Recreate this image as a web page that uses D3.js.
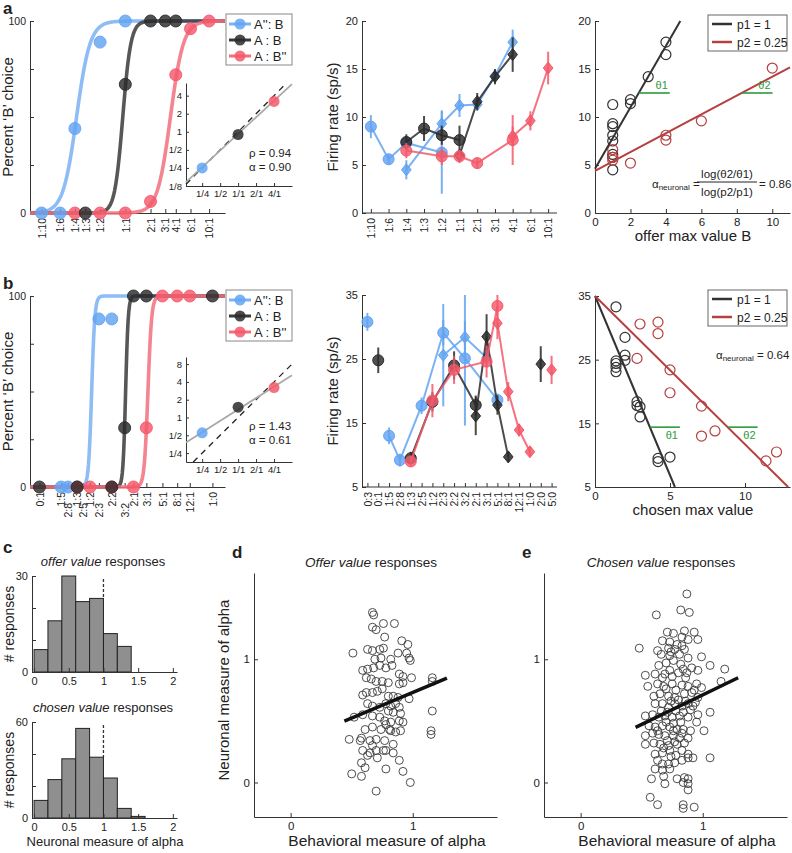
<!DOCTYPE html>
<html>
<head>
<meta charset="utf-8">
<script src="https://cdn.jsdelivr.net/npm/d3@7"></script>
<style>
body { margin: 0; background: #fff; }
.ax path, .ax line { stroke: #333; }
.ax text { fill: #222; }
</style>
</head>
<body>
<script>
// ---- data ----
// behaviour, panel a (x position = log of the offer ratio)
var aChoiceCats  = ['1:10','1:6','1:4','1:3','1:2','1:1','2:1','3:1','4:1','6:1','10:1'];
var aChoiceBlue  = [0, 0, 44, null, 89, 100, null, null, null, null, null];
var aChoiceBlack = [null, null, null, 0, null, 67, 100, 100, 100, null, null];
var aChoiceRed   = [null, null, 0, null, 0, 0, 6, null, 72, 96, 100];
var aFitMid   = [-1.34, -0.07, 1.24];
var aFitSlope = [5.4, 9, 5.6];

// behaviour, panel b
var bChoiceCats  = ['0:1','1:5','2:8','1:3','2:5','1:2','2:3','2:2','3:2','2:1','3:1','5:1','8:1','12:1','1:0'];
var bChoiceLn    = [-2.3, -1.61, -1.39, -1.10, -0.92, -0.69, -0.41, 0, 0.41, 0.69, 1.10, 1.61, 2.08, 2.48, 3.2];
var bChoiceLower = ['2:8','2:5','2:3','3:2'];
var bChoiceBlue  = [null, 0, 0, null, null, null, 88, 88, null, null, null, null, null, null, null];
var bChoiceBlack = [0, null, null, 0, null, null, null, 0, 31, 100, 100, null, null, null, 100];
var bChoiceRed   = [null, null, null, 0, null, 0, null, 0, null, 0, 31, 100, 100, 100, null];
var bFitMid   = [-0.64, 0.44, 1.15];
var bFitSlope = [20, 24, 17];

var seriesNames = ["A'': B", 'A : B', "A : B''"];

// insets (log2 relative value)
var insetXTicks = ['1/4','1/2','1/1','2/1','4/1'];
var insetX = [-2, 0, 2];
var aInsetYTicks = ['1/8','1/4','1/2','1','2','4'];
var aInsetY = [-2, -0.15, 1.68];
var aInsetFit = [-0.12, 0.92];
var aInsetText = ['\u03c1 = 0.94', '\u03b1 = 0.90'];
var bInsetYTicks = ['1/4','1/2','1','2','4','8'];
var bInsetY = [-0.86, 0.58, 1.68];
var bInsetFit = [0.45, 0.64];
var bInsetText = ['\u03c1 = 1.43', '\u03b1 = 0.61'];

// firing rates, panel a: [offer type, sp/s, sem]
var aRateCats = ['1:10','1:6','1:4','1:3','1:2','1:1','2:1','3:1','4:1','6:1','10:1'];
var aBlueCirc  = [['1:10',9.0,1.2],['1:6',5.6,0.5],['1:4',7.3,0.5],['1:2',6.3,4.3]];
var aBlueDiam  = [['1:4',4.5,1.0],['1:2',9.3,1.4],['1:1',11.2,1.2],['2:1',11.3,0.6],['3:1',14.3,0.5],['4:1',17.8,1.3]];
var aBlackCirc = [['1:4',7.4,0.8],['1:3',8.8,1.3],['1:2',8.1,1.0],['1:1',7.6,1.5]];
var aBlackDiam = [['1:1',6.0,0.6],['2:1',11.6,0.9],['3:1',14.2,0.8],['4:1',16.5,1.8]];
var aRedCirc   = [['1:4',6.5,0.8],['1:2',5.9,0.9],['1:1',5.9,0.7],['2:1',5.2,0.5],['4:1',7.6,2.6]];
var aRedDiam   = [['4:1',8.0,1.0],['6:1',9.6,1.0],['10:1',15.1,1.7]];

// firing rates, panel b
var bRateCats = ['0:3','0:1','1:5','2:8','1:3','2:5','1:2','2:3','2:2','3:2','2:1','3:1','5:1','8:1','12:1','1:0','2:0','5:0'];
var bBlueAlone  = [['0:3',30.8,1.4]];
var bBlueCirc   = [['1:5',13.0,1.3],['2:8',9.2,1.0],['2:5',17.7,1.3],['2:3',29.1,2.0],['3:2',25.1,10.5],['5:1',18.6,1.0]];
var bBlueDiam   = [['2:3',25.6,8.0],['3:2',28.4,2.5],['3:1',25.2,1.5]];
var bBlackAlone = [['0:1',24.8,2.0]];
var bBlackCirc  = [['1:3',9.5,1.0],['1:2',18.3,1.5],['2:2',24.0,2.2],['2:1',17.8,1.5]];
var bBlackDiam  = [['2:1',16.1,3.0],['3:1',28.5,3.5],['5:1',17.8,1.5],['8:1',9.7,0.8]];
var bBlackDAlone = [['2:0',24.2,2.8]];
var bRedCirc    = [['1:3',9.0,0.8],['1:2',18.5,2.6],['2:2',23.3,2.2],['3:1',24.6,2.5],['5:1',33.3,1.8]];
var bRedDiam    = [['5:1',30.6,2.5],['8:1',19.9,1.5],['12:1',13.9,1.0],['1:0',10.5,0.7]];
var bRedDAlone  = [['5:0',23.3,2.2]];

// single neuron examples: [max value, sp/s]
var aOfferP1 = [[1,11.3],[1,9.3],[1,9.0],[1,8.1],[1,7.5],[1,6.1],[1,5.8],[1,4.5],[2,11.8],[2,11.4],[3,14.2],[4,17.8],[4,16.5]];
var aOfferP2 = [[1,6.6],[1,5.8],[1,5.5],[2,5.2],[4,8.1],[4,7.6],[6,9.6],[10,15.1]];
var aLineIcpt = [4.6, 4.4], aLineSlope = [3.2, 0.98];
var aTheta = 12.5;
var bChosenP1 = [[1.4,33.3],[1.4,24.8],[1.4,24.4],[1.4,23.8],[1.4,23.1],[2,28.5],[2,25.7],[2,24.9],[2.8,18.4],[2.8,17.8],[3,17.6],[3,16.0],[4.2,9.5],[4.2,9.0],[5,9.7]];
var bChosenP2 = [[3,30.6],[4.2,30.9],[4.2,29.1],[2.8,25.2],[5,23.4],[5,19.8],[7.1,17.7],[7.1,13.0],[8,13.8],[11.4,9.1],[12.1,10.5]];
var bLineIcpt = [35, 35], bLineSlope = [-5.63, -2.33];
var bTheta = 14.4;

// histograms, bins of 0.2 starting at 0
var histBins = [0, 0.2, 0.4, 0.6, 0.8, 1.0, 1.2, 1.4, 1.6, 1.8];
var offerCounts  = [7, 16, 30, 22, 23, 12, 8, 0, 0, 0];
var chosenCounts = [11, 24, 37, 56, 38, 25, 6, 1, 0, 0];

// behavioural vs neuronal alpha
var dPts = [[0.67,1.38],[0.68,1.36],[0.76,1.29],[0.85,1.29],[0.67,1.26],[0.70,1.24],[0.77,1.18],[0.91,1.15],[0.96,1.12],
  [0.51,1.05],[0.63,1.08],[0.67,1.07],[0.73,1.08],[0.76,1.09],[0.69,1.00],[0.74,1.01],[0.82,1.00],[0.88,1.05],[0.95,1.05],
  [0.97,1.01],[0.98,0.99],[0.59,0.91],[0.63,0.92],[0.68,0.93],[0.73,0.95],[0.78,0.93],[0.83,0.95],[0.89,0.88],[0.92,0.86],
  [0.99,0.85],[1.16,0.85],[1.16,0.82],[0.62,0.85],[0.66,0.84],[0.70,0.82],[0.75,0.82],[0.80,0.81],[0.59,0.71],[0.62,0.73],
  [0.67,0.73],[0.71,0.74],[0.75,0.76],[0.80,0.70],[0.84,0.70],[0.88,0.69],[0.92,0.81],[0.97,0.68],[0.63,0.64],[0.67,0.62],
  [0.73,0.61],[0.78,0.64],[0.82,0.62],[0.86,0.64],[0.89,0.61],[0.80,0.58],[0.84,0.57],[0.90,0.56],[0.52,0.53],[0.59,0.55],
  [0.67,0.54],[0.73,0.53],[0.77,0.50],[0.78,0.47],[0.82,0.49],[0.89,0.50],[0.92,0.49],[1.16,0.58],[0.61,0.43],[0.67,0.45],
  [0.74,0.43],[0.81,0.43],[0.82,0.42],[0.86,0.41],[0.90,0.42],[1.15,0.42],[1.15,0.39],[0.48,0.35],[0.57,0.34],[0.58,0.36],
  [0.65,0.34],[0.70,0.35],[0.77,0.34],[0.84,0.31],[0.67,0.30],[0.70,0.26],[0.76,0.26],[0.59,0.26],[0.65,0.24],[0.63,0.22],
  [0.71,0.20],[0.78,0.26],[0.84,0.24],[0.89,0.18],[0.58,0.16],[0.61,0.12],[0.50,0.07],[0.78,0.11],[0.92,0.09],[0.98,0.00],
  [0.70,-0.07],[0.58,0.05],[0.89,0.80]];
var dFit = [0.314, 0.417], dFitRange = [0.44, 1.28];

var ePts = [[0.87,1.53],[0.82,1.40],[0.89,1.38],[0.62,1.36],[0.71,1.22],[0.76,1.21],[0.85,1.23],[0.93,1.22],[0.83,1.18],
  [0.88,1.16],[0.96,1.16],[0.67,1.15],[0.73,1.14],[0.48,1.09],[0.63,1.07],[0.72,1.09],[0.77,1.08],[0.85,1.08],[0.66,1.04],
  [0.73,1.03],[0.81,1.04],[0.88,1.01],[0.99,1.02],[0.53,0.87],[0.61,0.88],[0.67,0.85],[0.73,0.91],[0.80,0.89],[0.84,0.92],
  [0.91,0.93],[0.96,0.91],[1.06,0.95],[1.18,0.92],[0.55,0.78],[0.63,0.80],[0.68,0.78],[0.75,0.80],[0.83,0.79],[0.88,0.78],
  [0.95,0.80],[0.99,0.77],[1.15,0.82],[0.60,0.70],[0.65,0.72],[0.72,0.70],[0.77,0.69],[0.85,0.72],[0.91,0.73],[0.96,0.69],
  [0.61,0.64],[0.67,0.64],[0.72,0.61],[0.77,0.64],[0.83,0.62],[0.88,0.64],[0.94,0.65],[0.96,0.55],[1.06,0.57],[0.53,0.54],
  [0.59,0.55],[0.64,0.53],[0.69,0.54],[0.75,0.53],[0.81,0.54],[0.88,0.53],[0.95,0.49],[1.01,0.42],[0.56,0.46],[0.61,0.45],
  [0.67,0.46],[0.73,0.45],[0.79,0.43],[0.84,0.43],[0.90,0.42],[0.53,0.38],[0.59,0.40],[0.64,0.39],[0.69,0.38],[0.76,0.38],
  [0.83,0.40],[0.88,0.36],[0.53,0.31],[0.60,0.32],[0.65,0.31],[0.72,0.30],[0.79,0.31],[0.85,0.32],[0.61,0.23],[0.67,0.24],
  [0.73,0.26],[0.83,0.26],[0.88,0.23],[0.92,0.20],[1.06,0.20],[0.63,0.18],[0.67,0.15],[0.72,0.15],[0.77,0.16],[0.83,0.18],
  [0.88,0.20],[0.61,0.11],[0.67,0.10],[0.73,0.11],[0.58,0.03],[0.68,0.05],[0.69,-0.01],[0.79,0.03],[0.88,0.03],[0.88,-0.01],
  [0.88,-0.06],[0.84,0.00],[0.85,0.04],[0.57,-0.12],[0.63,-0.18],[0.84,-0.18],[0.84,-0.21],[0.93,-0.20],
  [0.64,0.95],[0.70,0.97],[0.76,0.99],[0.82,0.96],[0.69,0.88],[0.75,0.86],[0.86,0.85],[0.78,0.75],[0.70,0.76],[0.74,0.66],
  [0.80,0.67],[0.86,0.66],[0.66,0.58],[0.71,0.57],[0.78,0.58],[0.84,0.57],[0.90,0.59],[0.70,0.49],[0.76,0.48],[0.82,0.49],
  [0.63,0.42],[0.76,0.42],[0.71,0.34],[0.77,0.33],[0.68,0.28],[0.81,0.36],[0.74,0.21],[0.78,0.22],[0.92,0.62],[0.93,0.75],
  [0.87,0.89],[0.79,1.12],[0.74,1.06],[0.83,1.11]];
var eFit = [0.232, 0.479], eFitRange = [0.45, 1.29];

// ---- drawing ----
var colors = ['#63a4f2', '#2b2b2b', '#f4596a'];
var curveColors = ['#7ab2f4', '#3a3a3a', '#f26e7b'];
var green = '#2c9a3c', darkRed = '#b5403f';

var svg = d3.select('body').append('svg').attr('width', 792).attr('height', 853)
  .style('font-family', '"Liberation Sans", Arial, Helvetica, sans-serif');

function txt(x, y, s, fs, opt) {
  opt = opt || {};
  var t = svg.append('text').attr('x', x).attr('y', y).text(s)
    .style('font-size', fs + 'px').attr('fill', opt.fill || '#222');
  if (opt.anchor) t.attr('text-anchor', opt.anchor);
  if (opt.bold) t.style('font-weight', 'bold');
  if (opt.rot) t.attr('transform', 'rotate(-90,' + x + ',' + y + ')');
  return t;
}

function leftAxis(x, scale, vals, fmt, fs) {
  var g = svg.append('g').attr('class', 'ax').attr('transform', 'translate(' + x + ',0)')
    .call(d3.axisLeft(scale).tickValues(vals).tickFormat(fmt).tickSizeInner(-4).tickSizeOuter(0).tickPadding(4));
  g.selectAll('text').style('font-size', fs + 'px');
  return g;
}
function bottomAxis(y, scale, vals, fmt, fs) {
  var g = svg.append('g').attr('class', 'ax').attr('transform', 'translate(0,' + y + ')')
    .call(d3.axisBottom(scale).tickValues(vals).tickFormat(fmt).tickSizeInner(-4).tickSizeOuter(0).tickPadding(5));
  g.selectAll('text').style('font-size', fs + 'px');
  return g;
}
function rotateLabels(g, off) {
  g.selectAll('text').attr('transform', 'rotate(-90)').attr('text-anchor', 'end')
    .attr('y', 0).attr('dy', '0.35em').attr('x', function(d, i) { return off ? -off(d, i) : -5; });
}
function diamond() { return 'M0,-6L4.8,0L0,6L-4.8,0Z'; }

// ----- behaviour panels (a and b, left) -----
function choicePanel(o) {
  var x = d3.scaleLinear().domain(o.xDom).range([30, 225]);
  var y = d3.scaleLinear().domain([0, 100]).range([o.y0, o.y1]);
  leftAxis(30, y, [0, 25, 50, 75, 100], function(d) { return d === 0 || d === 100 ? d : ''; }, 10.5);
  var gx = bottomAxis(o.y0, x, o.pos, function(d, i) { return o.cats[i]; }, 10.5);
  rotateLabels(gx, function(d, i) { return o.lower && o.lower.indexOf(o.cats[i]) >= 0 ? 16 : 5; });

  var xs = d3.range(0, 301).map(function(i) { return o.xDom[0] + (o.xDom[1] - o.xDom[0]) * i / 300; });
  o.mid.forEach(function(m, s) {
    var line = d3.line().x(function(d) { return x(d); })
      .y(function(d) { return y(100 / (1 + Math.exp(-o.slope[s] * (d - m)))); });
    svg.append('path').datum(xs).attr('d', line).attr('fill', 'none')
      .attr('stroke', curveColors[s]).attr('stroke-width', 3.6).attr('opacity', 0.85);
  });
  [0, 2, 1].forEach(function(s) {
    var pts = o.vals[s].map(function(v, i) { return [o.pos[i], v]; }).filter(function(d) { return d[1] !== null; });
    svg.append('g').selectAll('circle').data(pts).join('circle')
      .attr('cx', function(d) { return x(d[0]); }).attr('cy', function(d) { return y(d[1]); }).attr('r', 6)
      .attr('fill', colors[s]).attr('fill-opacity', 0.82).attr('stroke', colors[s]).attr('stroke-opacity', 0.9);
  });

  // legend
  var lg = svg.append('g').attr('transform', 'translate(226,' + o.legY + ')');
  lg.append('rect').attr('width', 66).attr('height', 51).attr('fill', '#fff').attr('stroke', '#888');
  seriesNames.forEach(function(n, s) {
    var yy = 10 + s * 16;
    lg.append('line').attr('x1', 3).attr('x2', 25).attr('y1', yy).attr('y2', yy)
      .attr('stroke', curveColors[s]).attr('stroke-width', 3);
    lg.append('circle').attr('cx', 14).attr('cy', yy).attr('r', 5.5).attr('fill', colors[s]).attr('fill-opacity', 0.85);
    lg.append('text').attr('x', 28).attr('y', yy + 4.5).text(n).style('font-size', '13px').attr('fill', '#222');
  });

  // inset
  var ix = d3.scaleLinear().domain([-2.9, 3.0]).range([186, 292]);
  var iy = d3.scaleLinear().domain(o.iyDom).range([o.iy0, o.iy1]);
  var gi = leftAxis(186, iy, d3.range(o.iyTickStart, o.iyTickStart + o.iyTicks.length),
    function(d, i) { return o.iyTicks[i]; }, 9.5);
  gi.selectAll('.tick line').attr('x2', 3);
  var gix = bottomAxis(o.iy0, ix, [-2, -1, 0, 1, 2], function(d, i) { return insetXTicks[i]; }, 9.5);
  gix.selectAll('.tick line').attr('y2', -3);
  gix.selectAll('text').attr('y', 4);
  var lo = Math.max(ix.domain()[0], iy.domain()[0]), hi = Math.min(ix.domain()[1], iy.domain()[1]);
  svg.append('line').attr('x1', ix(lo)).attr('y1', iy(lo)).attr('x2', ix(hi)).attr('y2', iy(hi))
    .attr('stroke', '#222').attr('stroke-width', 1.3).attr('stroke-dasharray', '6,5');
  var fx0 = Math.max(ix.domain()[0], (iy.domain()[0] - o.fit[0]) / o.fit[1]);
  var fx1 = Math.min(3.0, (iy.domain()[1] - o.fit[0]) / o.fit[1]);
  svg.append('line').attr('x1', ix(fx0)).attr('y1', iy(o.fit[0] + o.fit[1] * fx0))
    .attr('x2', ix(fx1)).attr('y2', iy(o.fit[0] + o.fit[1] * fx1))
    .attr('stroke', '#aaa').attr('stroke-width', 1.8);
  svg.append('g').selectAll('circle').data(insetX).join('circle')
    .attr('cx', function(d) { return ix(d); }).attr('cy', function(d, i) { return iy(o.iVals[i]); }).attr('r', 5.5)
    .attr('fill', function(d, i) { return colors[i]; }).attr('fill-opacity', 0.85);
  txt(249, o.textY, o.text[0], 11.5);
  txt(249, o.textY + 14, o.text[1], 11.5);
  txt(13, (o.y0 + o.y1) / 2, "Percent \u2018B\u2019 choice", 15, { anchor: 'middle', rot: true });
}

choicePanel({
  cats: aChoiceCats,
  pos: aChoiceCats.map(function(c) { var p = c.split(':'); return Math.log(+p[0] / +p[1]); }),
  xDom: [-2.62, 2.74], y0: 213, y1: 21,
  vals: [aChoiceBlue, aChoiceBlack, aChoiceRed], mid: aFitMid, slope: aFitSlope, legY: 14,
  iyDom: [-3, 2.7], iy0: 186, iy1: 83, iyTicks: aInsetYTicks, iyTickStart: -3,
  iVals: aInsetY, fit: aInsetFit, text: aInsetText, textY: 157
});
choicePanel({
  cats: bChoiceCats, pos: bChoiceLn, lower: bChoiceLower,
  xDom: [-2.6, 3.6], y0: 487, y1: 296,
  vals: [bChoiceBlue, bChoiceBlack, bChoiceRed], mid: bFitMid, slope: bFitSlope, legY: 290,
  iyDom: [-2.5, 3.4], iy0: 462, iy1: 357, iyTicks: bInsetYTicks, iyTickStart: -2,
  iVals: bInsetY, fit: bInsetFit, text: bInsetText, textY: 430
});

// ----- firing rate panels (middle) -----
function ratePanel(o) {
  var x = d3.scalePoint().domain(o.cats).range([362, 557]).padding(0.5);
  var y = d3.scaleLinear().domain(o.yDom).range([o.y0, o.y1]).clamp(true);
  leftAxis(362, y, o.yTicks, d3.format('d'), 11);
  var gx = bottomAxis(o.y0, x, o.cats, function(d) { return d; }, 10.5);
  rotateLabels(gx);
  gx.select('.domain').attr('d', 'M362,0H557');
  o.series.forEach(function(s) {
    var g = svg.append('g');
    var col = colors[s.c];
    if (s.line && s.pts.length > 1) {
      g.append('path').datum(s.pts).attr('fill', 'none').attr('stroke', col).attr('stroke-width', 2).attr('opacity', 0.85)
        .attr('d', d3.line().x(function(d) { return x(d[0]); }).y(function(d) { return y(d[1]); }));
    }
    g.selectAll('line').data(s.pts).join('line')
      .attr('x1', function(d) { return x(d[0]); }).attr('x2', function(d) { return x(d[0]); })
      .attr('y1', function(d) { return y(d[1] - d[2]); }).attr('y2', function(d) { return y(d[1] + d[2]); })
      .attr('stroke', col).attr('stroke-width', 2).attr('opacity', 0.85);
    if (s.shape === 'd') {
      g.selectAll('path.m').data(s.pts).join('path').attr('class', 'm').attr('d', diamond)
        .attr('transform', function(d) { return 'translate(' + x(d[0]) + ',' + y(d[1]) + ')'; })
        .attr('fill', col).attr('fill-opacity', 0.85).attr('stroke', col);
    } else {
      g.selectAll('circle').data(s.pts).join('circle').attr('r', 5.5)
        .attr('cx', function(d) { return x(d[0]); }).attr('cy', function(d) { return y(d[1]); })
        .attr('fill', col).attr('fill-opacity', 0.82).attr('stroke', col);
    }
  });
  txt(338, (o.y0 + o.y1) / 2, 'Firing rate (sp/s)', 15, { anchor: 'middle', rot: true });
}

ratePanel({
  cats: aRateCats, yDom: [0, 20], y0: 213, y1: 21, yTicks: [0, 5, 10, 15, 20],
  series: [
    { pts: aBlueCirc, c: 0, shape: 'c', line: true }, { pts: aBlueDiam, c: 0, shape: 'd', line: true },
    { pts: aBlackCirc, c: 1, shape: 'c', line: true }, { pts: aBlackDiam, c: 1, shape: 'd', line: true },
    { pts: aRedCirc, c: 2, shape: 'c', line: true }, { pts: aRedDiam, c: 2, shape: 'd', line: true }
  ]
});
ratePanel({
  cats: bRateCats, yDom: [5, 35], y0: 487, y1: 295, yTicks: [5, 15, 25, 35],
  series: [
    { pts: bBlueAlone, c: 0, shape: 'c' }, { pts: bBlueCirc, c: 0, shape: 'c', line: true },
    { pts: bBlueDiam, c: 0, shape: 'd', line: true },
    { pts: bBlackAlone, c: 1, shape: 'c' }, { pts: bBlackCirc, c: 1, shape: 'c', line: true },
    { pts: bBlackDiam, c: 1, shape: 'd', line: true }, { pts: bBlackDAlone, c: 1, shape: 'd' },
    { pts: bRedCirc, c: 2, shape: 'c', line: true }, { pts: bRedDiam, c: 2, shape: 'd', line: true },
    { pts: bRedDAlone, c: 2, shape: 'd' }
  ]
});

// ----- single neuron fits (right) -----
function fitPanel(o) {
  var x = d3.scaleLinear().domain(o.xDom).range([595, 790]);
  var y = d3.scaleLinear().domain(o.yDom).range([o.y0, o.y1]);
  leftAxis(595, y, o.yTicks, d3.format('d'), 11.5);
  bottomAxis(o.y0, x, o.xTicks, d3.format('d'), 11.5);
  var lineCol = ['#333', darkRed];
  [o.p1, o.p2].forEach(function(pts, s) {
    svg.append('g').selectAll('circle').data(pts).join('circle').attr('r', 5)
      .attr('cx', function(d) { return x(d[0]); }).attr('cy', function(d) { return y(d[1]); })
      .attr('fill', 'none').attr('stroke', lineCol[s]).attr('stroke-width', 1.2);
  });
  o.icpt.forEach(function(b0, s) {
    var b1 = o.slope[s];
    var xEnd = Math.min(o.xDom[1], ((b1 > 0 ? o.yDom[1] : o.yDom[0]) - b0) / b1);
    svg.append('line').attr('x1', x(0)).attr('y1', y(b0)).attr('x2', x(xEnd)).attr('y2', y(b0 + b1 * xEnd))
      .attr('stroke', lineCol[s]).attr('stroke-width', 2);
    var xs = (o.theta - b0) / b1;
    svg.append('line').attr('x1', x(xs)).attr('x2', x(xs + o.thetaLen)).attr('y1', y(o.theta)).attr('y2', y(o.theta))
      .attr('stroke', green).attr('stroke-width', 1.6);
    txt(x(xs + o.thetaLen) - 2, y(o.theta) + o.thetaDy, '\u03b8' + (s + 1), 11, { anchor: 'end', fill: green });
  });
  var lg = svg.append('g').attr('transform', 'translate(708,' + o.legY + ')');
  lg.append('rect').attr('width', 79).attr('height', 36).attr('fill', '#fff').attr('stroke', '#666');
  ['p1 = 1', 'p2 = 0.25'].forEach(function(n, s) {
    var yy = 9 + s * 18;
    lg.append('line').attr('x1', 4).attr('x2', 24).attr('y1', yy).attr('y2', yy).attr('stroke', lineCol[s]).attr('stroke-width', 2.5);
    lg.append('text').attr('x', 29).attr('y', yy + 4.5).text(n).style('font-size', '12px').attr('fill', '#222');
  });
  txt(693, o.y0 + 28, o.xLabel, 15, { anchor: 'middle' });
}

fitPanel({
  xDom: [0, 11], yDom: [0, 20], y0: 213, y1: 21, yTicks: [0, 5, 10, 15, 20], xTicks: [0, 2, 4, 6, 8, 10],
  p1: aOfferP1, p2: aOfferP2, icpt: aLineIcpt, slope: aLineSlope, theta: aTheta, thetaLen: 1.75, thetaDy: -4,
  legY: 15, xLabel: 'offer max value B'
});
fitPanel({
  xDom: [0, 13], yDom: [5, 35], y0: 487, y1: 296, yTicks: [5, 15, 25, 35], xTicks: [0, 5, 10],
  p1: bChosenP1, p2: bChosenP2, icpt: bLineIcpt, slope: bLineSlope, theta: bTheta, thetaLen: 2.0, thetaDy: 12,
  legY: 290, xLabel: 'chosen max value'
});

// alpha neuronal formulas
var f1 = txt(652, 188, '\u03b1', 11.5);
f1.append('tspan').attr('dy', 2).style('font-size', '8px').text('neuronal');
f1.append('tspan').attr('dy', -2).text(' =');
txt(727, 178, 'log(\u03b82/\u03b81)', 11.5, { anchor: 'middle' });
svg.append('line').attr('x1', 697).attr('x2', 757).attr('y1', 182).attr('y2', 182).attr('stroke', '#222');
txt(727, 196, 'log(p2/p1)', 11.5, { anchor: 'middle' });
txt(759, 188, '= 0.86', 11.5);
var f2 = txt(716, 359, '\u03b1', 11.5);
f2.append('tspan').attr('dy', 2).style('font-size', '8px').text('neuronal');
f2.append('tspan').attr('dy', -2).text(' = 0.64');

// ----- histograms (c) -----
function histPanel(o) {
  var x = d3.scaleLinear().domain([-0.03, 2.06]).range([32, 177]);
  var y = d3.scaleLinear().domain([0, o.yMax]).range([o.y0, o.y1]);
  var bins = histBins.map(function(b, i) { return [b, o.counts[i]]; }).filter(function(d) { return d[1] > 0; });
  svg.append('g').selectAll('rect').data(bins).join('rect')
    .attr('x', function(d) { return x(d[0]); }).attr('width', x(0.2) - x(0))
    .attr('y', function(d) { return y(d[1]); }).attr('height', function(d) { return y(0) - y(d[1]); })
    .attr('fill', '#8f8f8f').attr('stroke', '#222').attr('stroke-width', 1);
  leftAxis(32, y, o.yTicks, function(d) { return d === 0 || d === o.yMax ? d : ''; }, 11);
  bottomAxis(o.y0, x, [0, 0.5, 1, 1.5, 2], d3.format('~g'), 11);
  var barTop = o.counts[histBins.indexOf(0.8)];
  svg.append('line').attr('x1', x(1)).attr('x2', x(1)).attr('y1', y(o.yMax * 0.97)).attr('y2', y(barTop))
    .attr('stroke', '#333').attr('stroke-width', 1.3).attr('stroke-dasharray', '3,2');
  var t = txt(103, o.y1 - 10, '', 13, { anchor: 'middle' });
  t.append('tspan').style('font-style', 'italic').text(o.title);
  t.append('tspan').text(' responses');
  txt(14, (o.y0 + o.y1) / 2, '# responses', 14, { anchor: 'middle', rot: true });
}
histPanel({ counts: offerCounts, yMax: 30, y0: 672, y1: 576, yTicks: [0, 10, 20, 30], title: 'offer value' });
histPanel({ counts: chosenCounts, yMax: 60, y0: 818, y1: 722, yTicks: [0, 20, 40, 60], title: 'chosen value' });
txt(105, 846, 'Neuronal measure of alpha', 13, { anchor: 'middle' });

// ----- scatter panels (d, e) -----
function scatterPanel(o) {
  var x = d3.scaleLinear().domain([-0.3, 1.69]).range([o.x0, o.x0 + 243]);
  var y = d3.scaleLinear().domain([-0.28, 1.7]).range([817, 573]);
  leftAxis(o.x0, y, [0, 1], d3.format('d'), 11.5);
  bottomAxis(817, x, [0, 1], d3.format('d'), 11.5);
  svg.append('g').selectAll('circle').data(o.pts).join('circle').attr('r', 4)
    .attr('cx', function(d) { return x(d[0]); }).attr('cy', function(d) { return y(d[1]); })
    .attr('fill', 'none').attr('stroke', '#3a3a3a').attr('stroke-width', 0.9);
  svg.append('line').attr('x1', x(o.range[0])).attr('y1', y(o.fit[0] + o.fit[1] * o.range[0]))
    .attr('x2', x(o.range[1])).attr('y2', y(o.fit[0] + o.fit[1] * o.range[1]))
    .attr('stroke', '#111').attr('stroke-width', 3.5);
  var t = txt(o.x0 + 117, 567, '', 13.5, { anchor: 'middle' });
  t.append('tspan').style('font-style', 'italic').text(o.title);
  t.append('tspan').text(' responses');
  txt(o.x0 + 133, 846, 'Behavioral measure of alpha', 15.5, { anchor: 'middle' });
}
scatterPanel({ x0: 254, pts: dPts, fit: dFit, range: dFitRange, title: 'Offer value' });
scatterPanel({ x0: 544, pts: ePts, fit: eFit, range: eFitRange, title: 'Chosen value' });
txt(229, 690, 'Neuronal measure of alpha', 15, { anchor: 'middle', rot: true });

// panel letters
txt(3, 14, 'a', 17, { bold: true });
txt(3, 289, 'b', 17, { bold: true });
txt(3, 553, 'c', 17, { bold: true });
txt(232, 558, 'd', 17, { bold: true });
txt(522, 558, 'e', 17, { bold: true });
</script>
</body>
</html>
